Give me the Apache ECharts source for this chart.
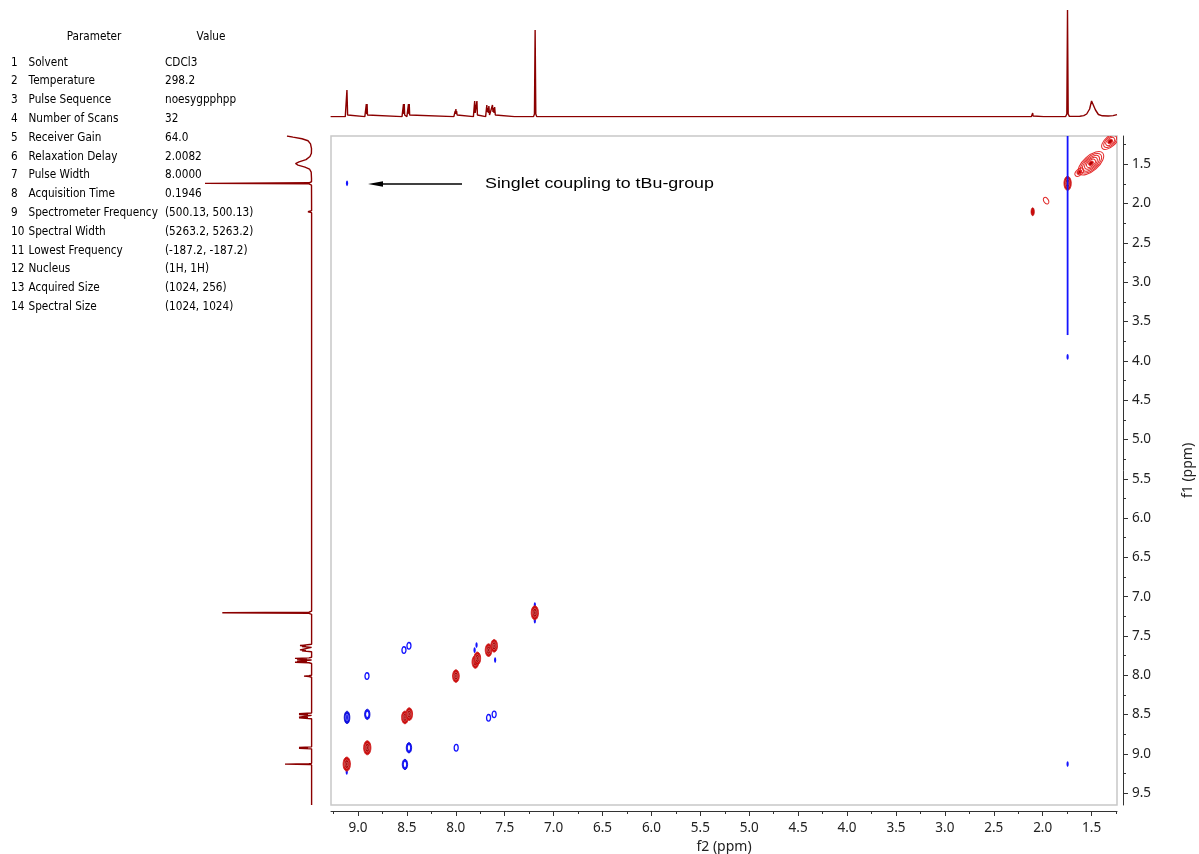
<!DOCTYPE html>
<html>
<head>
<meta charset="utf-8">
<script src="https://cdn.jsdelivr.net/npm/echarts@6.0.0/dist/echarts.min.js"></script>
<style>
html,body{margin:0;padding:0;background:#ffffff;}
#chart{width:1199px;height:854px;}
</style>
</head>
<body>
<div id="chart"></div>
<script>
// ---------------- data ----------------
const paramNames = ['Solvent','Temperature','Pulse Sequence','Number of Scans','Receiver Gain','Relaxation Delay','Pulse Width','Acquisition Time','Spectrometer Frequency','Spectral Width','Lowest Frequency','Nucleus','Acquired Size','Spectral Size'];
const paramValues = ['CDCl3','298.2','noesygpphpp','32','64.0','2.0082','8.0000','0.1946','(500.13, 500.13)','(5263.2, 5263.2)','(-187.2, -187.2)','(1H, 1H)','(1024, 256)','(1024, 1024)'];

const f2TickLabels = [9.0, 8.5, 8.0, 7.5, 7.0, 6.5, 6.0, 5.5, 5.0, 4.5, 4.0, 3.5, 3.0, 2.5, 2.0, 1.5];
const f2MinorTicks = [9.25, 8.75, 8.25, 7.75, 7.25, 6.75, 6.25, 5.75, 5.25, 4.75, 4.25, 3.75, 3.25, 2.75, 2.25, 1.75, 1.25];
const f1TickLabels = [1.5, 2.0, 2.5, 3.0, 3.5, 4.0, 4.5, 5.0, 5.5, 6.0, 6.5, 7.0, 7.5, 8.0, 8.5, 9.0, 9.5];
const f1MinorTicks = [1.25, 1.75, 2.25, 2.75, 3.25, 3.75, 4.25, 4.75, 5.25, 5.75, 6.25, 6.75, 7.25, 7.75, 8.25, 8.75, 9.25];

// 1D projection along f2 (top): [ppm, intensity]
const topTrace = [
  [9.28, 0.4], [9.13, 0.4], [9.12, 2], [9.113, 27], [9.106, 2], [9.095, 0.4],
  [8.93, 0.4], [8.919, 2], [8.915, 13], [8.911, 3], [8.907, 13], [8.903, 2], [8.89, 0.4],
  [8.55, 0.4], [8.539, 2], [8.535, 13], [8.531, 3], [8.527, 13], [8.523, 2], [8.50, 0.4],
  [8.488, 2], [8.484, 13], [8.480, 3], [8.476, 13], [8.472, 2], [8.46, 0.4],
  [8.02, 0.4], [8.011, 2], [8.006, 6], [8.002, 3], [7.999, 8], [7.996, 3], [7.992, 6], [7.987, 2], [7.978, 0.4],
  [7.82, 0.4], [7.812, 2], [7.807, 16], [7.802, 4], [7.796, 2], [7.789, 3], [7.784, 16], [7.779, 2], [7.77, 0.4],
  [7.695, 0.4], [7.688, 2], [7.683, 12], [7.678, 5], [7.672, 9], [7.667, 4], [7.662, 11], [7.655, 2], [7.645, 0.4],
  [7.635, 2], [7.625, 12], [7.620, 5], [7.614, 9], [7.609, 4], [7.603, 10], [7.596, 2], [7.585, 0.4],
  [7.40, 0.4], [7.396, 1.5], [7.392, 0.4],
  [7.205, 0.4], [7.196, 3], [7.189, 87], [7.182, 3], [7.173, 0.4],
  [6.985, 0.4], [6.98, 1.2], [6.975, 0.4],
  [2.115, 0.4], [2.106, 1], [2.102, 4], [2.098, 1], [2.09, 0.4],
  [1.99, 0.4], [1.98, 0.9], [1.97, 0.4],
  [1.765, 0.5], [1.753, 3], [1.746, 107], [1.739, 3], [1.727, 0.6],
  [1.62, 0.8], [1.61, 1.2], [1.58, 1.4], [1.55, 3], [1.52, 8], [1.50, 16], [1.49, 17.5], [1.48, 15], [1.46, 7], [1.43, 2.5], [1.39, 1.2],
  [1.33, 1], [1.32, 2], [1.31, 1], [1.28, 1.4], [1.24, 2.4]
];

// 1D projection along f1 (left): [intensity, ppm]
const leftTrace = [
  [25, 1.14], [19, 1.155], [10, 1.175], [4, 1.2], [1.5, 1.24], [0.5, 1.30], [0.6, 1.36], [2, 1.40], [6, 1.44], [13, 1.47],
  [16.5, 1.49], [14, 1.51], [7, 1.535], [2.5, 1.56], [0.8, 1.60], [0.5, 1.68],
  [0.5, 1.722], [3, 1.735], [107, 1.742], [3, 1.749], [0.5, 1.765],
  [0.4, 2.09], [4, 2.103], [0.4, 2.115],
  [0.4, 7.185], [3, 7.198], [89.7, 7.205], [3, 7.212], [0.4, 7.225],
  [0.4, 7.605], [2, 7.615], [12, 7.622], [6, 7.628], [10, 7.634], [0.4, 7.645],
  [0.4, 7.66], [2, 7.67], [12, 7.677], [6, 7.683], [10, 7.689], [0.4, 7.70],
  [0.4, 7.77], [3, 7.779], [17, 7.785], [5, 7.791], [15, 7.797], [0.4, 7.805],
  [0.4, 7.815], [15, 7.822], [5, 7.828], [17, 7.834], [3, 7.84], [0.4, 7.85],
  [0.4, 8.0], [3, 8.005], [8, 8.01], [3, 8.015], [0.4, 8.025],
  [0.4, 8.48], [13, 8.49], [4, 8.495], [13, 8.50], [0.4, 8.51],
  [0.4, 8.524], [13, 8.532], [4, 8.537], [13, 8.542], [0.4, 8.552],
  [0.4, 8.91], [13, 8.918], [4, 8.923], [13, 8.928], [0.4, 8.936],
  [0.4, 9.12], [3, 9.126], [27, 9.13], [3, 9.134], [0.4, 9.14],
  [0.4, 9.65]
];

// 2D contours: [f2 ppm, f1 ppm, contour level]
const diagonalPeaks = [
  [9.115, 9.13, 4], [8.905, 8.922, 4], [8.52, 8.536, 3], [8.476, 8.494, 3], [7.999, 8.01, 3],
  [7.80, 7.83, 3], [7.78, 7.785, 3], [7.665, 7.68, 3], [7.608, 7.625, 3], [7.192, 7.205, 4],
  [1.745, 1.742, 4], [2.102, 2.103, 2], [1.965, 1.963, 1]
];
const diagonalRings = [
  [1.31, 1.21, 4], [1.625, 1.60, 2], [1.506, 1.487, 6]
];
const crossPeaks = [
  [9.112, 1.742, 0], [9.112, 8.536, 3], [8.905, 8.497, 2], [8.908, 8.010, 1],
  [8.52, 9.134, 2], [8.479, 8.922, 2], [8.530, 7.679, 1], [8.479, 7.625, 1],
  [7.996, 8.922, 1], [7.788, 7.616, 0], [7.808, 7.680, 0], [7.598, 7.807, 0],
  [7.665, 8.541, 1], [7.608, 8.497, 1], [7.192, 7.107, 0], [7.192, 7.307, 0],
  [9.115, 9.23, 0], [1.745, 9.13, 0], [1.745, 3.95, 0]
];
const t1Streak = [[1.745, 1.14], [1.745, 3.672]];

const annotationText = 'Singlet coupling to tBu-group';

// ---------------- drawing ----------------
const F2_MIN = 1.24, F2_MAX = 9.276, F1_MIN = 1.14, F1_MAX = 9.65;
const AXIS_COLOR = '#333333';
const LABEL_FONT = 'Noto Sans';
const SPEC_COLOR = '#8b0000';

function ell(c, rx, ry, rot, style) {
  return { type: 'ellipse', x: c[0], y: c[1], rotation: rot, shape: { cx: 0, cy: 0, rx: rx, ry: ry }, style: style };
}

function renderDiagonal(params, api) {
  const c = api.coord([api.value(0), api.value(1)]);
  const lvl = api.value(2);
  const kids = [];
  if (lvl === 1) {
    kids.push(ell(c, 2.3, 3.6, 0.6, { fill: 'none', stroke: '#e02828', lineWidth: 1 }));
  } else if (lvl === 2) {
    kids.push(ell(c, 1.7, 4, 0, { fill: '#cc0c0c', stroke: '#b00000', lineWidth: 0.6 }));
  } else {
    const rx = lvl === 4 ? 3.6 : 3.3, ry = lvl === 4 ? 7 : 6.3;
    kids.push(ell(c, rx, ry, 0, { fill: '#c80a0a', stroke: '#d42424', lineWidth: 1 }));
    kids.push(ell(c, rx * 0.62, ry * 0.62, 0, { fill: '#a80000', stroke: 'rgba(255,190,190,0.55)', lineWidth: 0.7 }));
    kids.push(ell(c, rx * 0.28, ry * 0.3, 0, { fill: 'none', stroke: 'rgba(255,220,220,0.6)', lineWidth: 0.6 }));
  }
  return { type: 'group', children: kids };
}

function renderRings(params, api) {
  const c = api.coord([api.value(0), api.value(1)]);
  const n = api.value(2);
  const kids = [];
  for (let i = n; i >= 1; i--) {
    kids.push(ell(c, 2.6 * i, 1.15 * i + 0.6, 0.72, {
      fill: i === 1 ? '#b00000' : 'none', stroke: '#e42c2c', lineWidth: 1
    }));
  }
  return { type: 'group', children: kids };
}

function renderCross(params, api) {
  const c = api.coord([api.value(0), api.value(1)]);
  const lvl = api.value(2);
  const B = '#1414ff';
  const kids = [];
  if (lvl === 0) {
    kids.push(ell(c, 1.1, 2.8, 0, { fill: B, stroke: null }));
  } else if (lvl === 1) {
    kids.push(ell(c, 2, 3.3, 0, { fill: 'none', stroke: B, lineWidth: 1.3 }));
  } else if (lvl === 2) {
    kids.push(ell(c, 2.7, 5.2, 0, { fill: B, stroke: '#0000d0', lineWidth: 0.8 }));
    kids.push(ell(c, 1.1, 2.7, 0, { fill: '#ffffff', stroke: null }));
  } else {
    kids.push(ell(c, 2.8, 6.2, 0, { fill: '#1010e8', stroke: '#0000c0', lineWidth: 0.8 }));
    kids.push(ell(c, 1.3, 3.2, 0, { fill: 'none', stroke: 'rgba(190,190,255,0.8)', lineWidth: 0.7 }));
  }
  return { type: 'group', children: kids };
}

const graphics = [];
// parameter table
graphics.push({ type: 'text', x: 94, y: 37, scaleX: 0.84, style: { text: 'Parameter', font: '12.5px "DejaVu Sans"', fill: '#000', align: 'center', verticalAlign: 'middle' } });
graphics.push({ type: 'text', x: 211, y: 37, scaleX: 0.84, style: { text: 'Value', font: '12.5px "DejaVu Sans"', fill: '#000', align: 'center', verticalAlign: 'middle' } });
paramNames.forEach(function (name, i) {
  const y = 62.3 + i * 18.8;
  graphics.push({ type: 'text', x: 11, y: y, scaleX: 0.84, style: { text: String(i + 1), font: '12.5px "DejaVu Sans"', fill: '#000', align: 'left', verticalAlign: 'middle' } });
  graphics.push({ type: 'text', x: 28.5, y: y, scaleX: 0.84, style: { text: name, font: '12.5px "DejaVu Sans"', fill: '#000', align: 'left', verticalAlign: 'middle' } });
  graphics.push({ type: 'text', x: 165, y: y, scaleX: 0.84, style: { text: paramValues[i], font: '12.5px "DejaVu Sans"', fill: '#000', align: 'left', verticalAlign: 'middle' } });
});
// annotation arrow + text
graphics.push({ type: 'line', shape: { x1: 462, y1: 184, x2: 380, y2: 184 }, style: { stroke: '#000', lineWidth: 1.3 } });
graphics.push({ type: 'polygon', shape: { points: [[368, 184], [383, 181.2], [383, 186.8]] }, style: { fill: '#000' } });
graphics.push({ type: 'text', x: 485, y: 184, scaleX: 1.15, style: { text: annotationText, font: '15.5px "Liberation Sans"', fill: '#000', align: 'left', verticalAlign: 'middle' } });

const option = {
  animation: false,
  backgroundColor: '#ffffff',
  grid: [
    { left: 331, top: 136, width: 786, height: 669, outerBoundsMode: 'none', containLabel: false, show: true, borderColor: '#c8c8c8', borderWidth: 1.5, backgroundColor: 'transparent' },
    { left: 331, top: 10, width: 786, height: 107, outerBoundsMode: 'none', containLabel: false },
    { left: 205, top: 136, width: 107, height: 669, outerBoundsMode: 'none', containLabel: false }
  ],
  xAxis: [
    {
      gridIndex: 0, type: 'value', min: F2_MIN, max: F2_MAX, inverse: true, position: 'bottom', offset: 6,
      axisLine: { show: true, onZero: false, lineStyle: { color: AXIS_COLOR, width: 1 } },
      axisTick: { show: true, length: 5, customValues: f2TickLabels, lineStyle: { color: AXIS_COLOR } },
      axisLabel: { customValues: f2TickLabels, formatter: function (v) { return v.toFixed(1); }, fontFamily: LABEL_FONT, fontSize: 13.5, color: '#222', margin: 10 },
      splitLine: { show: false },
      name: 'f2 (ppm)', nameLocation: 'middle', nameGap: 25,
      nameTextStyle: { fontFamily: LABEL_FONT, fontSize: 14, color: '#222' }
    },
    {
      gridIndex: 0, type: 'value', min: F2_MIN, max: F2_MAX, inverse: true, position: 'bottom', offset: 6,
      axisLine: { show: false },
      axisTick: { show: true, length: 3, customValues: f2MinorTicks, lineStyle: { color: AXIS_COLOR } },
      axisLabel: { show: false }, splitLine: { show: false }
    },
    { gridIndex: 1, type: 'value', min: F2_MIN, max: F2_MAX, inverse: true, show: false },
    { gridIndex: 2, type: 'value', min: 0, max: 107, inverse: true, show: false }
  ],
  yAxis: [
    {
      gridIndex: 0, type: 'value', min: F1_MIN, max: F1_MAX, inverse: true, position: 'right', offset: 6,
      axisLine: { show: true, onZero: false, lineStyle: { color: AXIS_COLOR, width: 1 } },
      axisTick: { show: true, length: 5, customValues: f1TickLabels, lineStyle: { color: AXIS_COLOR } },
      axisLabel: { customValues: f1TickLabels, formatter: function (v) { return v.toFixed(1); }, fontFamily: LABEL_FONT, fontSize: 13.5, color: '#222', margin: 9 },
      splitLine: { show: false },
      name: 'f1 (ppm)', nameLocation: 'middle', nameGap: 58, nameRotate: 90,
      nameTextStyle: { fontFamily: LABEL_FONT, fontSize: 14, color: '#222' }
    },
    {
      gridIndex: 0, type: 'value', min: F1_MIN, max: F1_MAX, inverse: true, position: 'right', offset: 6,
      axisLine: { show: false },
      axisTick: { show: true, length: 3, customValues: f1MinorTicks, lineStyle: { color: AXIS_COLOR } },
      axisLabel: { show: false }, splitLine: { show: false }
    },
    { gridIndex: 1, type: 'value', min: 0, max: 107, show: false },
    { gridIndex: 2, type: 'value', min: F1_MIN, max: F1_MAX, inverse: true, show: false }
  ],
  series: [
    { type: 'line', xAxisIndex: 2, yAxisIndex: 2, data: topTrace, showSymbol: false, symbol: 'none', lineStyle: { color: SPEC_COLOR, width: 1.4 }, silent: true },
    { type: 'line', xAxisIndex: 3, yAxisIndex: 3, data: leftTrace, showSymbol: false, symbol: 'none', lineStyle: { color: SPEC_COLOR, width: 1.4 }, silent: true },
    { type: 'line', xAxisIndex: 0, yAxisIndex: 0, data: t1Streak, showSymbol: false, symbol: 'none', lineStyle: { color: '#1414ff', width: 1.8 }, silent: true },
    { type: 'custom', xAxisIndex: 0, yAxisIndex: 0, data: crossPeaks, encode: { x: 0, y: 1 }, renderItem: renderCross, clip: true, silent: true },
    { type: 'custom', xAxisIndex: 0, yAxisIndex: 0, data: diagonalRings, encode: { x: 0, y: 1 }, renderItem: renderRings, clip: true, silent: true },
    { type: 'custom', xAxisIndex: 0, yAxisIndex: 0, data: diagonalPeaks, encode: { x: 0, y: 1 }, renderItem: renderDiagonal, clip: true, silent: true }
  ],
  graphic: graphics
};

const chart = echarts.init(document.getElementById('chart'), null, { renderer: 'canvas' });
chart.setOption(option);
</script>
</body>
</html>
